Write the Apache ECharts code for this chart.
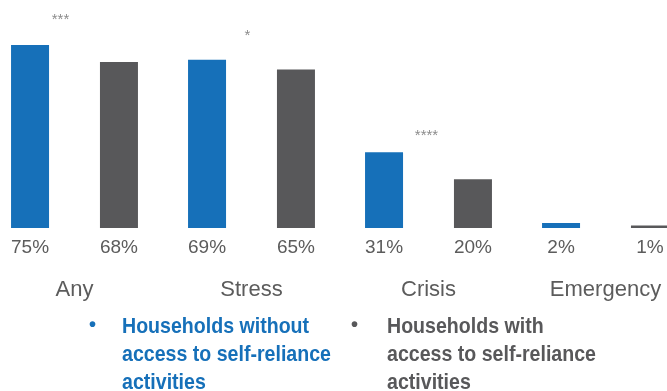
<!DOCTYPE html>
<html>
<head>
<meta charset="utf-8">
<style>
  html, body { margin: 0; padding: 0; background: #ffffff; }
  #chart { width: 667px; height: 391px; }
</style>
<script src="https://cdn.jsdelivr.net/npm/echarts@6/dist/echarts.min.js"></script>
</head>
<body>
<div id="chart"></div>
<script>
// Coping-strategy categories and shares of households (%)
const categories = ['Any', 'Stress', 'Crisis', 'Emergency'];
const withoutAccess = [75, 69, 31, 2];
const withAccess = [68, 65, 20, 1];
// Significance markers and the height (%) at which each one sits
const significance = ['***', '*', '****', ''];
const markerHeights = [85.3, 78.8, 37.8, 0];
const seriesNames = [
  'Households without\naccess to self-reliance\nactivities',
  'Households with\naccess to self-reliance\nactivities'
];

const BLUE = '#1670b9';
const GREY = '#58585a';
const TEXT = '#5c5c5c';
const FONT = '"Liberation Sans", Arial, sans-serif';

const chart = echarts.init(document.getElementById('chart'), null, { renderer: 'canvas' });

const pctLabel = {
  show: true,
  position: 'bottom',
  distance: 10,
  formatter: p => p.value + '%',
  color: TEXT,
  fontFamily: FONT,
  fontSize: 19
};

const markerOffsets = [-14, -4, -2, 0];

chart.setOption({
  animation: false,
  backgroundColor: '#ffffff',
  grid: {
    left: -14, width: 708, top: 8.4, bottom: 163,
    containLabel: false,
    outerBoundsMode: 'none'
  },
  xAxis: {
    type: 'category',
    data: categories,
    axisLine: { show: false },
    axisTick: { show: false },
    splitLine: { show: false },
    axisLabel: {
      interval: 0,
      margin: 51,
      color: TEXT,
      fontFamily: FONT,
      fontSize: 22
    }
  },
  yAxis: {
    type: 'value',
    min: 0,
    max: 90,
    show: false
  },
  series: [
    {
      name: seriesNames[0],
      type: 'bar',
      data: withoutAccess,
      barWidth: 38,
      barGap: '134%',
      itemStyle: { color: BLUE },
      label: pctLabel
    },
    {
      name: seriesNames[1],
      type: 'bar',
      data: withAccess,
      barWidth: 38,
      itemStyle: { color: GREY },
      label: pctLabel
    },
    {
      type: 'scatter',
      symbolSize: 0,
      silent: true,
      data: categories.map((c, i) => ({
        value: [c, markerHeights[i]],
        label: { offset: [markerOffsets[i], 0] }
      })).filter((d, i) => significance[i] !== ''),
      label: {
        show: true,
        position: 'inside',
        formatter: p => significance[p.dataIndex],
        color: '#6e6e6e',
        fontFamily: FONT,
        fontSize: 15
      }
    }
  ],
  graphic: [
    {
      type: 'text', left: 89, top: 315,
      style: { text: '•', fill: BLUE, font: 'bold 20px ' + FONT }
    },
    {
      type: 'text', left: 122, top: 313, scaleX: 0.89,
      style: {
        text: seriesNames[0], fill: BLUE,
        font: 'bold 22px ' + FONT, lineHeight: 28
      }
    },
    {
      type: 'text', left: 351, top: 315,
      style: { text: '•', fill: GREY, font: 'bold 20px ' + FONT }
    },
    {
      type: 'text', left: 387, top: 313, scaleX: 0.89,
      style: {
        text: seriesNames[1], fill: GREY,
        font: 'bold 22px ' + FONT, lineHeight: 28
      }
    }
  ]
});
</script>
</body>
</html>
